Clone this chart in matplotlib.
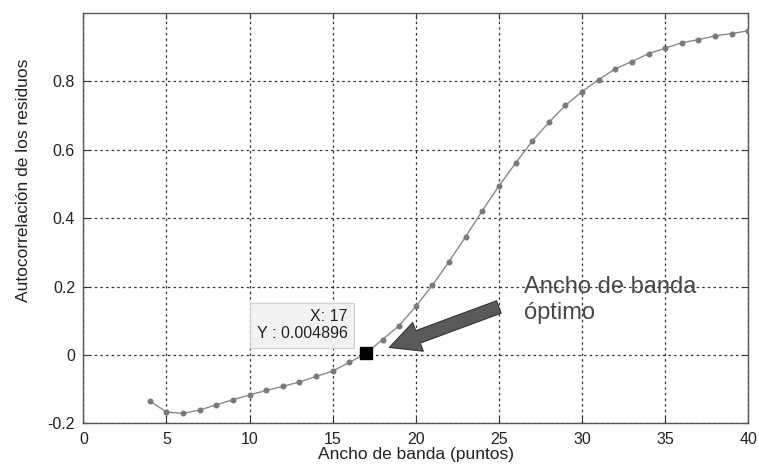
import numpy as np
import matplotlib
matplotlib.use("Agg")
import matplotlib.pyplot as plt

# data
bandwidth = np.arange(4, 41)
autocorr = [-0.135, -0.167, -0.171, -0.161, -0.146, -0.131, -0.117, -0.104,
            -0.092, -0.079, -0.063, -0.047, -0.022, 0.004896, 0.045, 0.086,
            0.142, 0.204, 0.273, 0.346, 0.422, 0.494, 0.561, 0.625, 0.680,
            0.730, 0.770, 0.805, 0.837, 0.858, 0.881, 0.897, 0.913, 0.922,
            0.933, 0.940, 0.948]

opt_x = 17
opt_y = 0.004896

xticks = [0, 5, 10, 15, 20, 25, 30, 35, 40]
yticks = [-0.2, 0, 0.2, 0.4, 0.6, 0.8]
ytick_labels = ['-0.2', '0', '0.2', '0.4', '0.6', '0.8']

plt.rcParams['font.family'] = ['Liberation Sans', 'DejaVu Sans']

fig = plt.figure(figsize=(7.59, 4.66), dpi=100)
ax = fig.add_axes([0.1098, 0.0916, 0.8761, 0.8805])

ax.plot(bandwidth, autocorr, '-', color='#8a8a8a', lw=1.0,
        marker='o', markersize=3.3, markerfacecolor='#7a7a7a',
        markeredgecolor='#7a7a7a', zorder=3)

# datatip
ax.plot(opt_x, opt_y, 's', color='black', markersize=8, zorder=5)
ax.text(15.9, 0.087, 'X: 17\nY : 0.004896', ha='right', va='center',
        multialignment='right', fontsize=11.5, color='#222222', linespacing=1.2,
        bbox=dict(boxstyle='square,pad=0.4', fc='#f2f2f2', ec='#d0d0d0', lw=0.8),
        zorder=4)

# arrow pointing to optimum
ax.annotate('', xy=(18.25, 0.019), xytext=(25.15, 0.143),
            arrowprops=dict(arrowstyle='simple,head_width=2.2,head_length=2.2,tail_width=0.95',
                            mutation_scale=10, fc='#5a5a5a', ec='#333333', lw=0.8),
            zorder=6)
ax.text(26.5, 0.232, 'Ancho de banda\nóptimo', ha='left', va='top',
        fontsize=17, color='#484848', linespacing=1.25, zorder=6)

ax.set_xlim(0, 40)
ax.set_ylim(-0.2, 1.0)
ax.set_xticks(xticks)
ax.set_yticks(yticks)
ax.set_yticklabels(ytick_labels)
ax.grid(True, linestyle=(0, (2, 2.5)), color='#333333', lw=0.9)
ax.tick_params(direction='in', length=4, top=True, right=True,
               labelsize=11.5, colors='#333333', labelcolor='#222222', pad=6)
for s in ax.spines.values():
    s.set_color('#555555')
    s.set_linewidth(1.0)

ax.set_xlabel('Ancho de banda (puntos)', fontsize=12.5, color='#222222')
ax.set_ylabel('Autocorrelación de los residuos', fontsize=12.5, color='#222222')
ax.xaxis.set_label_coords(0.5, -0.058)
ax.yaxis.set_label_coords(-0.078, 0.593)

fig.savefig('out.png', dpi=100, facecolor='white')
